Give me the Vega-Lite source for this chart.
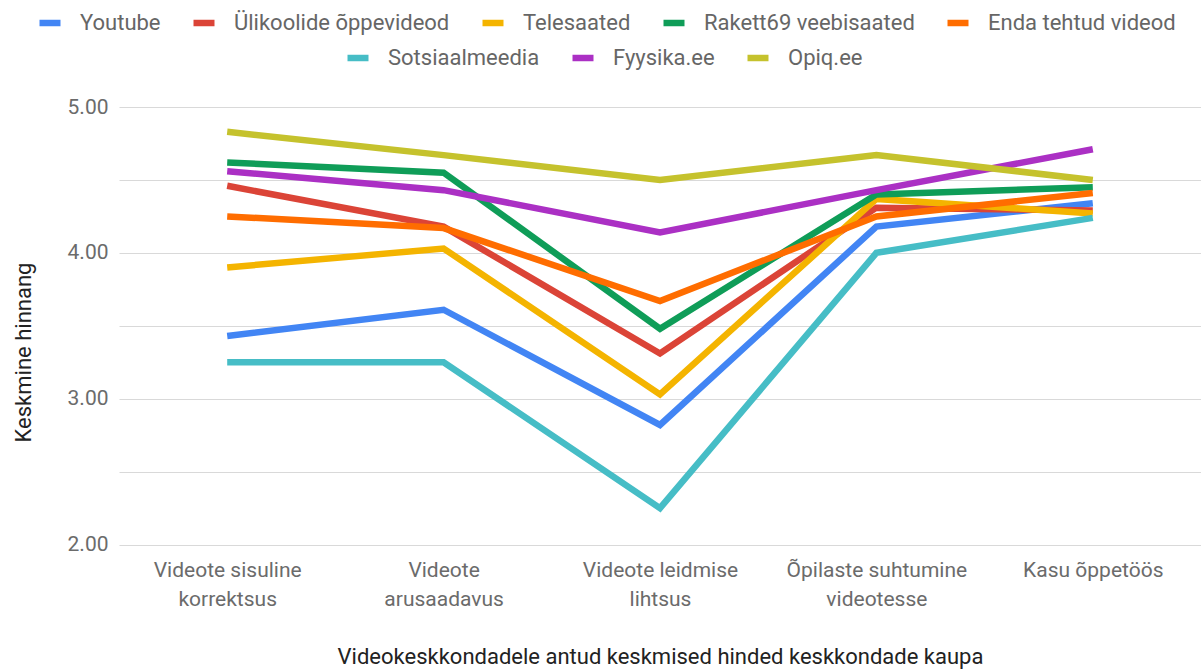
{
  "$schema": "https://vega.github.io/schema/vega-lite/v6.json",
  "width": 1082,
  "height": 437.6,
  "autosize": {"type": "none"},
  "padding": {"left": 119, "top": 107, "right": 0, "bottom": 125.4},
  "config": {"font": "Roboto", "view": {"stroke": null}},
  "data": {"values": [
    {"series": "Youtube", "aspect": "Videote sisuline korrektsus", "value": 3.43},
    {"series": "Youtube", "aspect": "Videote arusaadavus", "value": 3.61},
    {"series": "Youtube", "aspect": "Videote leidmise lihtsus", "value": 2.82},
    {"series": "Youtube", "aspect": "Õpilaste suhtumine videotesse", "value": 4.18},
    {"series": "Youtube", "aspect": "Kasu õppetöös", "value": 4.34},
    {"series": "Ülikoolide õppevideod", "aspect": "Videote sisuline korrektsus", "value": 4.46},
    {"series": "Ülikoolide õppevideod", "aspect": "Videote arusaadavus", "value": 4.18},
    {"series": "Ülikoolide õppevideod", "aspect": "Videote leidmise lihtsus", "value": 3.31},
    {"series": "Ülikoolide õppevideod", "aspect": "Õpilaste suhtumine videotesse", "value": 4.31},
    {"series": "Ülikoolide õppevideod", "aspect": "Kasu õppetöös", "value": 4.29},
    {"series": "Telesaated", "aspect": "Videote sisuline korrektsus", "value": 3.90},
    {"series": "Telesaated", "aspect": "Videote arusaadavus", "value": 4.03},
    {"series": "Telesaated", "aspect": "Videote leidmise lihtsus", "value": 3.03},
    {"series": "Telesaated", "aspect": "Õpilaste suhtumine videotesse", "value": 4.37},
    {"series": "Telesaated", "aspect": "Kasu õppetöös", "value": 4.27},
    {"series": "Rakett69 veebisaated", "aspect": "Videote sisuline korrektsus", "value": 4.62},
    {"series": "Rakett69 veebisaated", "aspect": "Videote arusaadavus", "value": 4.55},
    {"series": "Rakett69 veebisaated", "aspect": "Videote leidmise lihtsus", "value": 3.48},
    {"series": "Rakett69 veebisaated", "aspect": "Õpilaste suhtumine videotesse", "value": 4.40},
    {"series": "Rakett69 veebisaated", "aspect": "Kasu õppetöös", "value": 4.45},
    {"series": "Enda tehtud videod", "aspect": "Videote sisuline korrektsus", "value": 4.25},
    {"series": "Enda tehtud videod", "aspect": "Videote arusaadavus", "value": 4.17},
    {"series": "Enda tehtud videod", "aspect": "Videote leidmise lihtsus", "value": 3.67},
    {"series": "Enda tehtud videod", "aspect": "Õpilaste suhtumine videotesse", "value": 4.25},
    {"series": "Enda tehtud videod", "aspect": "Kasu õppetöös", "value": 4.41},
    {"series": "Sotsiaalmeedia", "aspect": "Videote sisuline korrektsus", "value": 3.25},
    {"series": "Sotsiaalmeedia", "aspect": "Videote arusaadavus", "value": 3.25},
    {"series": "Sotsiaalmeedia", "aspect": "Videote leidmise lihtsus", "value": 2.25},
    {"series": "Sotsiaalmeedia", "aspect": "Õpilaste suhtumine videotesse", "value": 4.00},
    {"series": "Sotsiaalmeedia", "aspect": "Kasu õppetöös", "value": 4.24},
    {"series": "Fyysika.ee", "aspect": "Videote sisuline korrektsus", "value": 4.56},
    {"series": "Fyysika.ee", "aspect": "Videote arusaadavus", "value": 4.43},
    {"series": "Fyysika.ee", "aspect": "Videote leidmise lihtsus", "value": 4.14},
    {"series": "Fyysika.ee", "aspect": "Õpilaste suhtumine videotesse", "value": 4.43},
    {"series": "Fyysika.ee", "aspect": "Kasu õppetöös", "value": 4.71},
    {"series": "Opiq.ee", "aspect": "Videote sisuline korrektsus", "value": 4.83},
    {"series": "Opiq.ee", "aspect": "Videote arusaadavus", "value": 4.67},
    {"series": "Opiq.ee", "aspect": "Videote leidmise lihtsus", "value": 4.50},
    {"series": "Opiq.ee", "aspect": "Õpilaste suhtumine videotesse", "value": 4.67},
    {"series": "Opiq.ee", "aspect": "Kasu õppetöös", "value": 4.50}
  ]},
  "encoding": {
    "x": {
      "field": "aspect", "type": "nominal", "sort": null,
      "scale": {"type": "point", "padding": 0.5},
      "axis": {
        "title": "Videokeskkondadele antud keskmised hinded keskkondade kaupa",
        "titleFont": "Roboto", "titleFontSize": 22, "titleFontWeight": "normal", "titleColor": "#222222",
        "titleBaseline": "alphabetic", "titleY": 119,
        "labelAngle": 0, "labelFontSize": 21, "labelColor": "#6b6b6b",
        "labelBaseline": "top", "labelPadding": 15, "labelLineHeight": 29, "labelLimit": 300,
        "labelExpr": "datum.value == 'Videote sisuline korrektsus' ? ['Videote sisuline', 'korrektsus'] : datum.value == 'Videote arusaadavus' ? ['Videote', 'arusaadavus'] : datum.value == 'Videote leidmise lihtsus' ? ['Videote leidmise', 'lihtsus'] : datum.value == 'Õpilaste suhtumine videotesse' ? ['Õpilaste suhtumine', 'videotesse'] : datum.label",
        "domain": false, "ticks": false, "grid": false
      }
    },
    "y": {
      "field": "value", "type": "quantitative",
      "scale": {"domain": [2, 5], "nice": false, "zero": false},
      "axis": {
        "title": "Keskmine hinnang",
        "titleFontSize": 22, "titleFontWeight": "normal", "titleColor": "#222222",
        "titleBaseline": "alphabetic", "titleX": -89, "titleY": 245, "titleAngle": -90,
        "values": [2, 2.5, 3, 3.5, 4, 4.5, 5],
        "labelExpr": "datum.value % 1 == 0 ? format(datum.value, '.2f') : ''",
        "labelFontSize": 21, "labelColor": "#6b6b6b", "labelPadding": 11,
        "domain": false, "ticks": false,
        "grid": true, "gridColor": "#d9d9d9", "gridWidth": 1.2
      }
    }
  },
  "layer": [
    {
      "transform": [{"filter": {"field": "series", "oneOf": ["Youtube", "Ülikoolide õppevideod", "Telesaated", "Rakett69 veebisaated", "Enda tehtud videod"]}}],
      "mark": {"type": "line", "strokeWidth": 6.5, "strokeJoin": "miter"},
      "encoding": {
        "color": {
          "field": "series", "type": "nominal",
          "scale": {"domain": ["Youtube", "Ülikoolide õppevideod", "Telesaated", "Rakett69 veebisaated", "Enda tehtud videod"],
                    "range": ["#4285F4", "#DB4437", "#F4B400", "#0F9D58", "#FF6D00"]},
          "legend": {
            "title": null, "orient": "none", "direction": "horizontal", "columns": 5,
            "legendX": -83, "legendY": -98,
            "symbolType": "stroke", "symbolSize": 441,
            "symbolStrokeWidth": 6.5, "labelOffset": 16, "columnPadding": 19,
            "labelFontSize": 22, "labelColor": "#666666", "labelLimit": 400
          }
        }
      }
    },
    {
      "transform": [{"filter": {"field": "series", "oneOf": ["Sotsiaalmeedia", "Fyysika.ee", "Opiq.ee"]}}],
      "mark": {"type": "line", "strokeWidth": 6.5, "strokeJoin": "miter"},
      "encoding": {
        "color": {
          "field": "series", "type": "nominal",
          "scale": {"domain": ["Sotsiaalmeedia", "Fyysika.ee", "Opiq.ee"],
                    "range": ["#46BDC6", "#AB30C4", "#C5C22D"]},
          "legend": {
            "title": null, "orient": "none", "direction": "horizontal", "columns": 3,
            "legendX": 225, "legendY": -63,
            "symbolType": "stroke", "symbolSize": 441,
            "symbolStrokeWidth": 6.5, "labelOffset": 16, "columnPadding": 19,
            "labelFontSize": 22, "labelColor": "#666666", "labelLimit": 400
          }
        }
      }
    }
  ],
  "resolve": {"scale": {"color": "independent"}, "legend": {"color": "independent"}}
}
